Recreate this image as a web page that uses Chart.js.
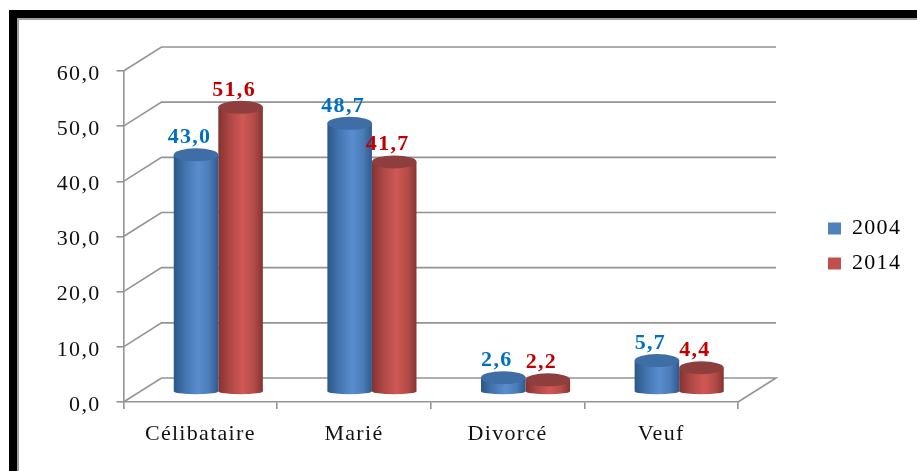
<!DOCTYPE html>
<html><head><meta charset="utf-8">
<script src="https://cdn.jsdelivr.net/npm/chart.js@4/dist/chart.umd.min.js"></script>
<style>
html,body{margin:0;padding:0;background:#fff;overflow:hidden;width:917px;height:471px}
#frame{position:absolute;left:9px;top:10px;width:920px;height:480px;border-left:8px solid #000;border-top:8px solid #000;filter:blur(.4px)}
#frame div{width:100%;height:100%;border-left:2px solid #a0a0a0;border-top:2px solid #a0a0a0}
canvas{position:absolute;left:0;top:0;filter:blur(.45px)}
</style></head><body>
<div id="frame"><div></div></div>
<canvas id="c" width="917" height="471"></canvas>
<script>
const categories = ['Célibataire', 'Marié', 'Divorcé', 'Veuf'];
const seriesNames = ['2004', '2014'];
const values2004 = [43.0, 48.7, 2.6, 5.7];
const values2014 = [51.6, 41.7, 2.2, 4.4];
const yMax = 60, yStep = 10;

const serif = '"Liberation Serif", "Times New Roman", serif';
const legendColors = ['#4F81BD', '#C0504D'];
const labelColors = ['#0070C0', '#C00000'];
const topColors = ['#3F6DA5', '#8E3F3D'];
const ramps = [['#2C5688', '#4274AE', '#5A8DCE', '#4A7CB8', '#2F5A8D'],
               ['#833230', '#AD4745', '#CF5855', '#B34B48', '#863432']];
const gridColor = '#949494';
const depthX = 38, depthY = -24;      // wall offset of the 3D box
const barDX = 18, barDY = -10;        // bars stand mid-way in the box
const ryTop = 6.5, ryBase = 3;
const catPct = 0.58;

function fmt(v){ return v.toFixed(1).replace('.', ','); }

function barFill(di){
  return function(ctx){
    const chart = ctx.chart, xs = chart.scales.x;
    if (!xs || !xs.width || ctx.dataIndex === undefined) return legendColors[di];
    const cx = xs.getPixelForValue(ctx.dataIndex);
    const bw = xs.width / categories.length * catPct / 2;
    const x0 = cx + (di === 0 ? -bw : 0);
    const g = chart.ctx.createLinearGradient(x0, 0, x0 + bw, 0);
    ramps[di].forEach((c, i) => g.addColorStop([0, .25, .55, .8, 1][i], c));
    return g;
  };
}

const box3d = {
  id: 'box3d',
  afterLayout(chart){
    const lg = chart.legend;
    const h = lg.bottom - lg.top;
    lg.left = 815; lg.width = 102; lg.right = 917;
    lg.top = 46; lg.bottom = lg.top + h;
  },
  beforeDraw(chart){ chart.ctx.letterSpacing = '1.3px'; },
  beforeDatasetsDraw(chart){
    const {ctx, chartArea:a, scales:{y}} = chart;
    ctx.save();
    ctx.strokeStyle = gridColor; ctx.lineWidth = 1.6;
    for (let v = 0; v <= yMax; v += yStep){
      const py = y.getPixelForValue(v);
      ctx.beginPath();
      ctx.moveTo(a.left, py);
      ctx.lineTo(a.left + depthX, py + depthY);
      ctx.lineTo(a.right + depthX, py + depthY);
      if (v === 0) ctx.lineTo(a.right, py);
      ctx.stroke();
    }
    ctx.restore();
    // bases of the cylinders, then bars shifted into the box
    ctx.save();
    ctx.translate(barDX, barDY);
    [0, 1].forEach(di => chart.getDatasetMeta(di).data.forEach(b => {
      ctx.fillStyle = b.options.backgroundColor;
      ctx.beginPath();
      ctx.ellipse(b.x, b.base, b.width / 2, ryBase, 0, 0, Math.PI * 2);
      ctx.fill();
    }));
  },
  afterDatasetsDraw(chart){
    const ctx = chart.ctx;
    [0, 1].forEach(di => chart.getDatasetMeta(di).data.forEach(b => {
      ctx.fillStyle = topColors[di];
      ctx.beginPath();
      ctx.ellipse(b.x, b.y, b.width / 2, ryTop, 0, 0, Math.PI * 2);
      ctx.fill();
    }));
    ctx.restore();
    // value labels
    ctx.save();
    ctx.font = 'bold 22px ' + serif;
    ctx.textAlign = 'center';
    ctx.textBaseline = 'alphabetic';
    [0, 1].forEach(di => {
      const vals = chart.data.datasets[di].data;
      chart.getDatasetMeta(di).data.forEach((b, i) => {
        ctx.fillStyle = labelColors[di];
        ctx.fillText(fmt(vals[i]), b.x + barDX - 6.5, b.y + barDY - ryTop - 5);
      });
    });
    ctx.restore();
  }
};

new Chart(document.getElementById('c'), {
  type: 'bar',
  data: {
    labels: categories,
    datasets: [
      {label: seriesNames[0], data: values2004, backgroundColor: barFill(0)},
      {label: seriesNames[1], data: values2014, backgroundColor: barFill(1)}
    ]
  },
  options: {
    responsive: false,
    animation: false,
    events: [],
    layout: {padding: {left: 0, top: 71, right: 100, bottom: 0}},
    datasets: {bar: {categoryPercentage: catPct, barPercentage: 1, borderWidth: 0}},
    scales: {
      x: {
        grid: {drawOnChartArea: false, color: gridColor, tickLength: 7, lineWidth: 1.6, offset: true},
        border: {color: gridColor, width: 1.6},
        ticks: {color: '#111', font: {family: serif, size: 22}, padding: 12, maxRotation: 0, autoSkip: false},
        afterFit(s){ s.height = 69; }
      },
      y: {
        min: 0, max: yMax,
        grid: {drawOnChartArea: false, color: gridColor, tickLength: 7, lineWidth: 1.6},
        border: {color: gridColor, width: 1.6},
        ticks: {stepSize: yStep, color: '#111', font: {family: serif, size: 22}, padding: 16, labelOffset: 3,
                callback: v => fmt(v)},
        afterFit(s){ s.width = 123.5; }
      }
    },
    plugins: {
      title: {display: false},
      tooltip: {enabled: false},
      legend: {
        position: 'right',
        maxWidth: 79,
        labels: {
          boxWidth: 13, boxHeight: 12, padding: 13,
          color: '#111', font: {family: serif, size: 22},
          generateLabels: chart => chart.data.datasets.map((d, i) => ({
            text: d.label, fillStyle: legendColors[i], strokeStyle: legendColors[i], lineWidth: 0, datasetIndex: i
          }))
        }
      }
    }
  },
  plugins: [box3d]
});
</script>
</body></html>
